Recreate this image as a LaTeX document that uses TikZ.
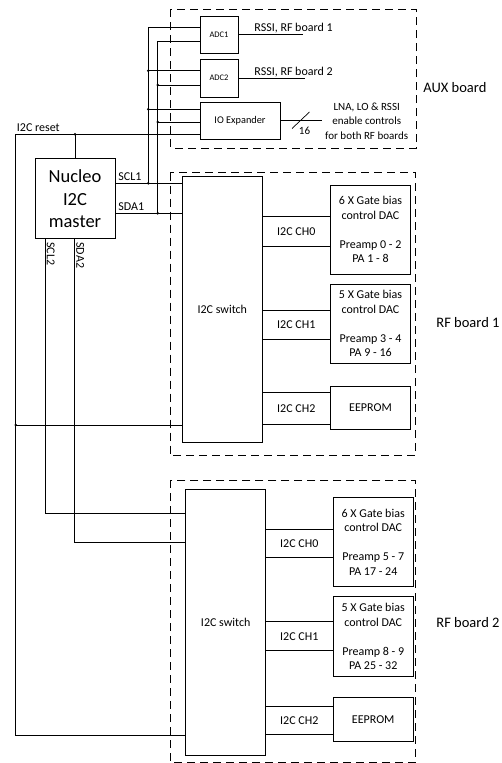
\documentclass[tikz,border=0pt]{standalone}
\usepackage{fontspec}
\setmainfont{Carlito}
\newcommand{\fsz}[2]{\fontsize{#1}{#2}\selectfont}
\begin{document}
\begin{tikzpicture}[x=1pt,y=-1pt,line width=0.8pt,
  box/.style={draw,rectangle,inner sep=0pt,align=center,font=\fsz{12}{14.5}},
  dashbox/.style={draw,dash pattern=on 8pt off 5pt,line width=0.7pt},
  dot/.style={circle,fill,inner sep=0pt,minimum size=2.8pt},
  lbl/.style={inner sep=0pt,font=\fsz{12}{14.5}},
  big/.style={inner sep=0pt,font=\fsz{14.5}{17}}]
\useasboundingbox (0,0) rectangle (501,763);
% dashed boards
\draw[dashbox] (170.7,9.3) rectangle (416,148);
\draw[dashbox] (170,172.7) rectangle (415.7,455.3);
\draw[dashbox] (170,480) rectangle (415.7,762);
% AUX board blocks
\node[box,minimum width=38pt,minimum height=37pt,font=\fsz{8.5}{10}] (adc1) at (219,34.5) {ADC1};
\node[box,minimum width=38pt,minimum height=38pt,font=\fsz{8.5}{10}] (adc2) at (219,78) {ADC2};
\node[box,minimum width=80pt,minimum height=37pt,font=\fsz{10.3}{12}] (ioe) at (240,120.5) {IO Expander};
% master
\node[box,minimum width=80pt,minimum height=80pt,font=\fsz{18.5}{22.5}] (master) at (75,198.7) {Nucleo\\I2C\\master};
% RF board 1
\node[box,minimum width=80pt,minimum height=266.7pt] (sw1) at (222.3,309.3) {I2C switch};
\node[box,minimum width=80.4pt,minimum height=89.3pt] (dac1) at (370.5,229.7) {6 X Gate bias\\control DAC\\[14.5pt]Preamp 0 - 2\\PA 1 - 8};
\node[box,minimum width=80.4pt,minimum height=79pt] (dac2) at (370.5,323.8) {5 X Gate bias\\control DAC\\[14.5pt]Preamp 3 - 4\\PA 9 - 16};
\node[box,minimum width=80.4pt,minimum height=43.3pt] (ee1) at (370.5,407.7) {EEPROM};
% RF board 2
\node[box,minimum width=80pt,minimum height=265.7pt] (sw2) at (225.7,622.2) {I2C switch};
\node[box,minimum width=80.3pt,minimum height=89.4pt] (dac3) at (373.2,542) {6 X Gate bias\\control DAC\\[14.5pt]Preamp 5 - 7\\PA 17 - 24};
\node[box,minimum width=80.3pt,minimum height=80pt] (dac4) at (373.2,636.7) {5 X Gate bias\\control DAC\\[14.5pt]Preamp 8 - 9\\PA 25 - 32};
\node[box,minimum width=80.3pt,minimum height=44pt] (ee2) at (373.2,719.7) {EEPROM};
% board labels
\node[big,anchor=west] (auxl) at (423,88) {AUX board};
\node[big,anchor=west] (rf1l) at (436,323) {RF board 1};
\node[big,anchor=west] (rf2l) at (436,623) {RF board 2};
% AUX outputs
\coordinate (o1) at (303.3,34.5);
\coordinate (o2) at (305,78);
\coordinate (o3) at (321.7,120.5);
\draw (adc1.east) -- (o1);
\draw (adc2.east) -- (o2);
\draw (ioe.east) -- (o3);
\node[lbl,anchor=base west] (t1) at (254,31) {RSSI, RF board 1};
\node[lbl,anchor=base west] (t2) at (254,75) {RSSI, RF board 2};
\coordinate (s1) at (292,128.5);
\coordinate (s2) at (309.5,112);
\draw[line width=0.7pt] (s1) -- (s2);
\node[inner sep=0pt,font=\fsz{11}{13}] (n16) at (304.5,130.5) {16};
\node[inner sep=0pt,align=center,font=\fsz{11}{14.5}] (lna) at (366.7,121.2) {LNA, LO \& RSSI\\enable controls\\for both RF boards};
% I2C bus 1
\coordinate (sclt) at (148.3,27);
\coordinate (sdat) at (157.7,41.7);
\coordinate (scl1) at (148.3,183.3);
\coordinate (sda1) at (157.7,213.3);
\coordinate (scla) at (148.3,70.7);
\coordinate (sdaa) at (157.7,85);
\coordinate (sclb) at (148.3,109.3);
\coordinate (sdab) at (157.7,122);
\draw (adc1.west |- sclt) -- (sclt) -- (scl1);
\draw (adc1.west |- sdat) -- (sdat) -- (sda1);
\draw (master.east |- scl1) -- (sw1.west |- scl1);
\draw (master.east |- sda1) -- (sw1.west |- sda1);
\draw (scla) -- (adc2.west |- scla);
\draw (sdaa) -- (adc2.west |- sdaa);
\draw (sclb) -- (ioe.west |- sclb);
\draw (sdab) -- (ioe.west |- sdab);
\node[dot] (d1) at (scla) {};
\node[dot] (d2) at (sdaa) {};
\node[dot] (d3) at (sclb) {};
\node[dot] (d4) at (sdab) {};
\node[dot] (d5) at (scl1) {};
\node[dot] (d6) at (sda1) {};
\node[lbl,anchor=base west] (lscl1) at (118,180.5) {SCL1};
\node[lbl,anchor=base west] (lsda1) at (118,210.5) {SDA1};
% reset
\coordinate (rs) at (15.7,134.3);
\coordinate (rm) at (15.7,425);
\coordinate (rb) at (15.7,735);
\coordinate (rj) at (75,134.3);
\draw (ioe.west |- rs) -- (rs) -- (rb) -- (sw2.west |- rb);
\draw (rm) -- (sw1.west |- rm);
\draw (master.north) -- (rj);
\node[dot] (d7) at (rj) {};
\node[dot] (d8) at (rm) {};
\node[lbl,anchor=base west] (lrst) at (16.5,131.3) {I2C reset};
% I2C bus 2
\coordinate (scl2) at (45,513.3);
\coordinate (sda2) at (74.3,542.3);
\draw (master.south -| scl2) -- (scl2) -- (sw2.west |- scl2);
\draw (master.south -| sda2) -- (sda2) -- (sw2.west |- sda2);
\node[lbl,rotate=-90,anchor=south west] (lscl2) at (46.5,242) {SCL2};
\node[lbl,rotate=-90,anchor=south west] (lsda2) at (75.8,242) {SDA2};
% RF1 channels
\foreach \a/\b/\t [count=\i] in {216.7/246/CH0,310/339/CH1,392.3/424.3/CH2}{
  \draw (sw1.east |- 0,\a) -- (dac1.west |- 0,\a);
  \draw (sw1.east |- 0,\b) -- (dac1.west |- 0,\b);
  \node[lbl] (ca\i) at (296.3,{(\a+\b)/2}) {I2C \t};
}
% RF2 channels
\foreach \a/\b/\t [count=\i] in {529/557.7/CH0,621.7/650.7/CH1,706/734.3/CH2}{
  \draw (sw2.east |- 0,\a) -- (dac3.west |- 0,\a);
  \draw (sw2.east |- 0,\b) -- (dac3.west |- 0,\b);
  \node[lbl] (cb\i) at (299.3,{(\a+\b)/2}) {I2C \t};
}
\end{tikzpicture}
\end{document}
